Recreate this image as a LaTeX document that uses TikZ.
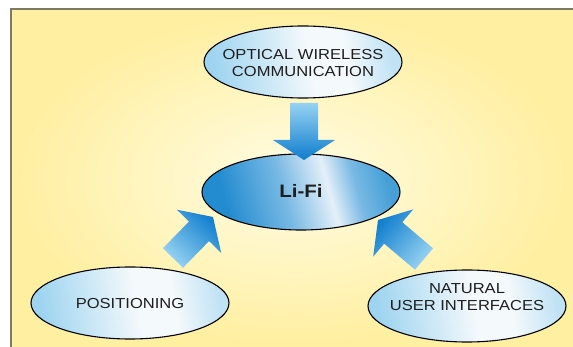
\documentclass[tikz,border=0pt]{standalone}
\usepackage{fontspec}
\setmainfont{Liberation Sans}
\newfontfamily\widefont[FakeStretch=1.14]{Liberation Sans}
\usetikzlibrary{shapes.geometric,calc}
\definecolor{bgcore}{RGB}{255,252,228}
\definecolor{bgouter}{RGB}{255,239,160}
\definecolor{framecol}{RGB}{125,122,100}
\definecolor{paleA}{RGB}{158,212,240}
\definecolor{paleB}{RGB}{244,249,251}
\definecolor{paleC}{RGB}{192,226,245}
\definecolor{deepA}{RGB}{35,140,208}
\definecolor{deepM}{RGB}{120,185,228}
\definecolor{deepB}{RGB}{228,240,248}
\definecolor{deepC}{RGB}{70,160,215}
\definecolor{arrDark}{RGB}{15,125,205}
\definecolor{arrLight}{RGB}{150,210,242}
\definecolor{txt}{RGB}{30,30,30}
\pgfdeclarehorizontalshading{paleshade}{100bp}{color(0bp)=(paleA); color(25bp)=(paleA); color(52bp)=(paleB); color(62bp)=(paleB); color(75bp)=(paleC); color(100bp)=(paleC)}
\pgfdeclarehorizontalshading{deepshade}{100bp}{color(0bp)=(deepA); color(28bp)=(deepA); color(45bp)=(deepM); color(58bp)=(deepB); color(66bp)=(deepM); color(75bp)=(deepC); color(100bp)=(deepC)}
\newcommand{\ellabel}[2][-6pt]{\makebox[0pt]{\raisebox{#1}[0pt][0pt]{\begin{tabular}{@{}c@{}}#2\end{tabular}}}}
\tikzset{
  paleell/.style={ellipse, draw=black, line width=1.1pt, inner sep=0pt,
    minimum width=198pt, minimum height=72pt,
    shading=paleshade, shading angle=10,
    font=\widefont\fontsize{14.5}{17}\selectfont, text=txt},
  deepell/.style={ellipse, draw=black, line width=1.1pt, inner sep=0pt,
    minimum width=198pt, minimum height=76pt,
    shading=deepshade, shading angle=15,
    font=\widefont\fontsize{18}{20}\selectfont\bfseries, text=txt},
}
\newcommand{\blockarrow}[3]{% tail, tip, shading angle
  \coordinate (H) at ($(#2)!20pt!(#1)$);
  \shade[top color=arrDark, bottom color=arrLight, shading angle=#3]
    ($(#1)!14pt!90:(#2)$) -- ($(H)!14pt!90:(#2)$) -- ($(H)!31pt!90:(#2)$)
    -- (#2) -- ($(H)!31pt!-90:(#2)$) -- ($(H)!14pt!-90:(#2)$)
    -- ($(#1)!14pt!-90:(#2)$) -- cycle;
}
\begin{document}
\begin{tikzpicture}[x=1pt,y=-1pt]
\useasboundingbox (0,0) rectangle (573,347);
\clip (0,0) rectangle (573,347);
\fill[white] (0,0) rectangle (573,347);
\shade[inner color=bgcore, outer color=bgouter] (11,9) rectangle (573,347);
\draw[framecol, line width=2pt] (11,349) -- (11,9) -- (575,9);

\node[paleell, shade] (owc) at (303,62) {\ellabel{OPTICAL WIRELESS\\COMMUNICATION}};
\node[deepell, shade] (lifi) at (301,192) {\ellabel[-5.5pt]{Li-Fi}};
\node[paleell, shade] (pos) at (130,303) {\ellabel{POSITIONING}};
\node[paleell, shade] (nui) at (467,306) {\ellabel[3.5pt]{NATURAL\\USER INTERFACES}};

\coordinate (a1s) at (304,103);
\coordinate (a1e) at (304,160);
\coordinate (a2s) at (173,258);
\coordinate (a2e) at (213,217);
\coordinate (a3s) at (424,259);
\coordinate (a3e) at (378,220);
\blockarrow{a1s}{a1e}{180}
\blockarrow{a2s}{a2e}{-44}
\blockarrow{a3s}{a3e}{50}
\end{tikzpicture}
\end{document}
